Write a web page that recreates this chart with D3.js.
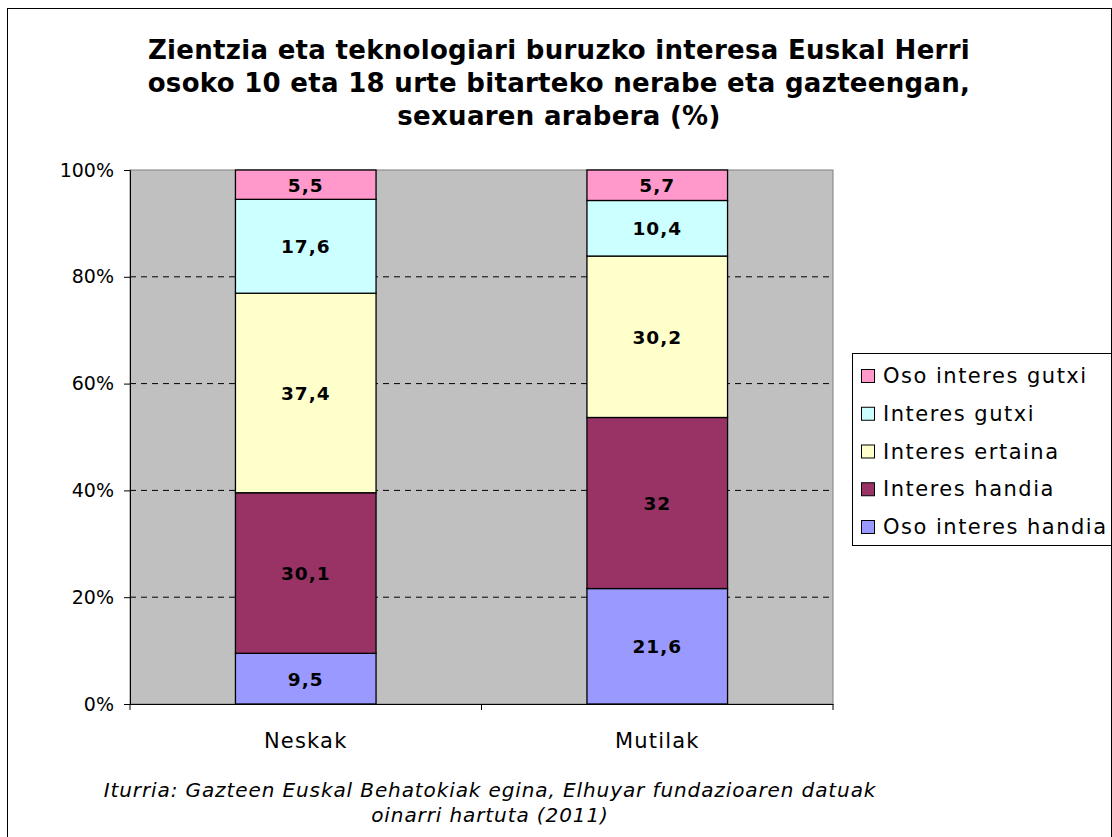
<!DOCTYPE html>
<html>
<head>
<meta charset="utf-8">
<script src="https://cdn.jsdelivr.net/npm/d3@7"></script>
<style>
body{margin:0;background:#fff;}
text{font-family:"DejaVu Sans",Verdana,sans-serif;}
</style>
</head>
<body>
<div id="plot"></div>
<script>
// data
var categories = ['Neskak','Mutilak'];
var seriesNames = ['Oso interes handia','Interes handia','Interes ertaina','Interes gutxi','Oso interes gutxi'];
var neskak = [9.5, 30.1, 37.4, 17.6, 5.5];
var mutilak = [21.6, 32, 30.2, 10.4, 5.7];
var colors = ['#9999FF','#993366','#FFFFCC','#CCFFFF','#FF99CC'];
var yTicks = [0,20,40,60,80,100];
var titleLines = ['Zientzia eta teknologiari buruzko interesa Euskal Herri',
                  'osoko 10 eta 18 urte bitarteko nerabe eta gazteengan,',
                  'sexuaren arabera (%)'];
var sourceLines = ['Iturria: Gazteen Euskal Behatokiak egina, Elhuyar fundazioaren datuak',
                   'oinarri hartuta (2011)'];

var W = 1112, H = 837;
var margin = {t:170, r:279, b:133, l:130};
var width = W - margin.l - margin.r,
    height = H - margin.t - margin.b;

var svg = d3.select('#plot').append('svg')
    .attr('width', W)
    .attr('height', H);

// chart border
svg.append('rect')
    .attr('x', 7.5).attr('y', 8.5)
    .attr('width', W - 8).attr('height', H)
    .attr('fill', '#fff').attr('stroke', '#000').attr('stroke-width', 1);

// title
svg.append('text')
    .attr('text-anchor', 'middle')
    .attr('font-weight', 'bold')
    .attr('font-size', 26)
    .attr('letter-spacing', 0.3)
    .selectAll('tspan')
    .data(titleLines)
    .enter()
    .append('tspan')
    .attr('x', 559)
    .attr('y', function(d, i){ return 59 + i * 33; })
    .text(function(d){ return d; });

var plot = svg.append('g')
    .attr('transform', 'translate(' + margin.l + ',' + margin.t + ')');

var x = d3.scaleBand().domain(categories).range([0, width]).paddingInner(0.6).paddingOuter(0.3);
var y = d3.scaleLinear().domain([0, 100]).range([height, 0]);

plot.append('rect')
    .attr('width', width).attr('height', height)
    .attr('fill', '#C0C0C0').attr('stroke', '#808080');

// gridlines
plot.selectAll('.grid')
    .data(yTicks.filter(function(d){ return d > 0 && d < 100; }))
    .enter()
    .append('line')
    .attr('x1', 0).attr('x2', width)
    .attr('y1', function(d){ return y(d); })
    .attr('y2', function(d){ return y(d); })
    .attr('stroke', '#000')
    .attr('stroke-dasharray', '6,5');

// stack the two series (100% stacked)
var rows = categories.map(function(c, ci){
    var vals = ci == 0 ? neskak : mutilak;
    var total = d3.sum(vals);
    var row = {cat: c};
    seriesNames.forEach(function(s, si){ row[s] = vals[si] / total * 100; row['raw' + si] = vals[si]; });
    return row;
});
var stack = d3.stack().keys(seriesNames)(rows);

stack.forEach(function(layer, si){
    var g = plot.append('g');
    g.selectAll('rect')
        .data(layer)
        .enter()
        .append('rect')
        .attr('x', function(d){ return x(d.data.cat); })
        .attr('y', function(d){ return y(d[1]); })
        .attr('width', x.bandwidth())
        .attr('height', function(d){ return y(d[0]) - y(d[1]); })
        .attr('fill', colors[si])
        .attr('stroke', '#000')
        .attr('stroke-width', 1.3);
    g.selectAll('text')
        .data(layer)
        .enter()
        .append('text')
        .attr('x', function(d){ return x(d.data.cat) + x.bandwidth() / 2; })
        .attr('y', function(d){ return (y(d[0]) + y(d[1])) / 2 + 7; })
        .attr('text-anchor', 'middle')
        .attr('font-weight', 'bold')
        .attr('font-size', 18.5)
        .attr('letter-spacing', 1)
        .text(function(d){ return String(d.data['raw' + si]).replace('.', ','); });
});

// axes
var yAxis = plot.append('g')
    .call(d3.axisLeft(y).tickValues(yTicks).tickSize(6).tickFormat(function(d){ return d + '%'; }));
yAxis.select('.domain').attr('stroke', '#000');
yAxis.selectAll('text').attr('font-size', 19).attr('fill', '#000').attr('dx', -7)
    .attr('font-family', '"DejaVu Sans",Verdana,sans-serif');

var xAxis = plot.append('g')
    .attr('transform', 'translate(0,' + height + ')')
    .call(d3.axisBottom(x).tickSize(0));
xAxis.select('.domain').attr('stroke', '#000');
xAxis.selectAll('text').attr('font-size', 21).attr('fill', '#000').attr('dy', 41)
    .attr('letter-spacing', 1.2)
    .attr('font-family', '"DejaVu Sans",Verdana,sans-serif');
// category separators
xAxis.selectAll('.sep')
    .data([0, width / 2, width])
    .enter()
    .append('line')
    .attr('x1', function(d){ return d; }).attr('x2', function(d){ return d; })
    .attr('y1', 0).attr('y2', 6)
    .attr('stroke', '#000');

// legend
var legend = svg.append('g').attr('transform', 'translate(852,353)');
legend.append('rect')
    .attr('x', 0.5).attr('y', 0.5)
    .attr('width', 259).attr('height', 192)
    .attr('fill', '#fff').attr('stroke', '#000');
var items = legend.selectAll('.item')
    .data(seriesNames.slice().reverse())
    .enter()
    .append('g')
    .attr('transform', function(d, i){ return 'translate(9,' + (30 + i * 37.75) + ')'; });
items.append('rect')
    .attr('x', 0.5).attr('y', -13.5)
    .attr('width', 13).attr('height', 13)
    .attr('fill', function(d){ return colors[seriesNames.indexOf(d)]; })
    .attr('stroke', '#000');
items.append('text')
    .attr('x', 22).attr('y', 0)
    .attr('font-size', 21)
    .attr('letter-spacing', 1.5)
    .text(function(d){ return d; });

// source note
svg.append('text')
    .attr('text-anchor', 'middle')
    .attr('font-style', 'italic')
    .attr('font-size', 20)
    .attr('letter-spacing', 0.9)
    .selectAll('tspan')
    .data(sourceLines)
    .enter()
    .append('tspan')
    .attr('x', 490)
    .attr('y', function(d, i){ return 797 + i * 25; })
    .text(function(d){ return d; });
</script>
</body>
</html>
